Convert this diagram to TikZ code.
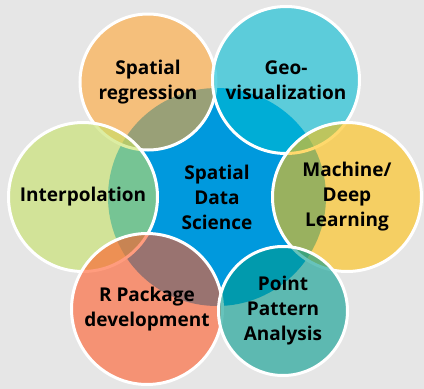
\documentclass[tikz,border=0pt]{standalone}
\usepackage{fontspec}
\setmainfont{Open Sans}
\usepackage{tikz}

\definecolor{bggray}{RGB}{230,230,230}
\definecolor{sdsblue}{RGB}{0,153,221}
\definecolor{regorange}{RGB}{255,165,52}
\definecolor{geocyan}{RGB}{0,187,210}
\definecolor{mlyellow}{RGB}{255,193,12}
\definecolor{ppteal}{RGB}{3,155,142}
\definecolor{rsalmon}{RGB}{255,90,40}
\definecolor{intgreen}{RGB}{198,225,100}

\begin{document}
\begin{tikzpicture}[
    x=1pt, y=-1pt,
    core/.style={circle, fill=sdsblue, inner sep=0pt, align=center, font=\bfseries\fontsize{19}{25}\selectfont},
    topic/.style={circle, draw=white, line width=3pt, fill opacity=0.6, text opacity=1, inner sep=0pt, align=center, font=\bfseries\fontsize{19}{25}\selectfont}
]
    \fill[bggray] (0,0) rectangle (424,389);
    \useasboundingbox (0,0) rectangle (424,389);

    \node[core, minimum size=218pt] (sds) at (217,197) {Spatial\\Data\\Science};

    \node[topic, fill=regorange, minimum size=136pt] (reg) at (148,82) {Spatial\\regression};
    \node[topic, fill=geocyan, minimum size=147pt] (geo) at (286,80) {Geo-\\visualization};
    \node[topic, fill=mlyellow, minimum size=149pt] (ml) at (347,197) {Machine/\\Deep\\Learning};
    \node[topic, fill=intgreen, minimum size=149pt] (interp) at (83,197) {Interpolation};
    \node[topic, fill=rsalmon, minimum size=151pt] (rpkg) at (147,309) {R Package\\development};
    \node[topic, fill=ppteal, minimum size=129pt] (ppa) at (283,311) {Point\\Pattern\\Analysis};
\end{tikzpicture}
\end{document}
